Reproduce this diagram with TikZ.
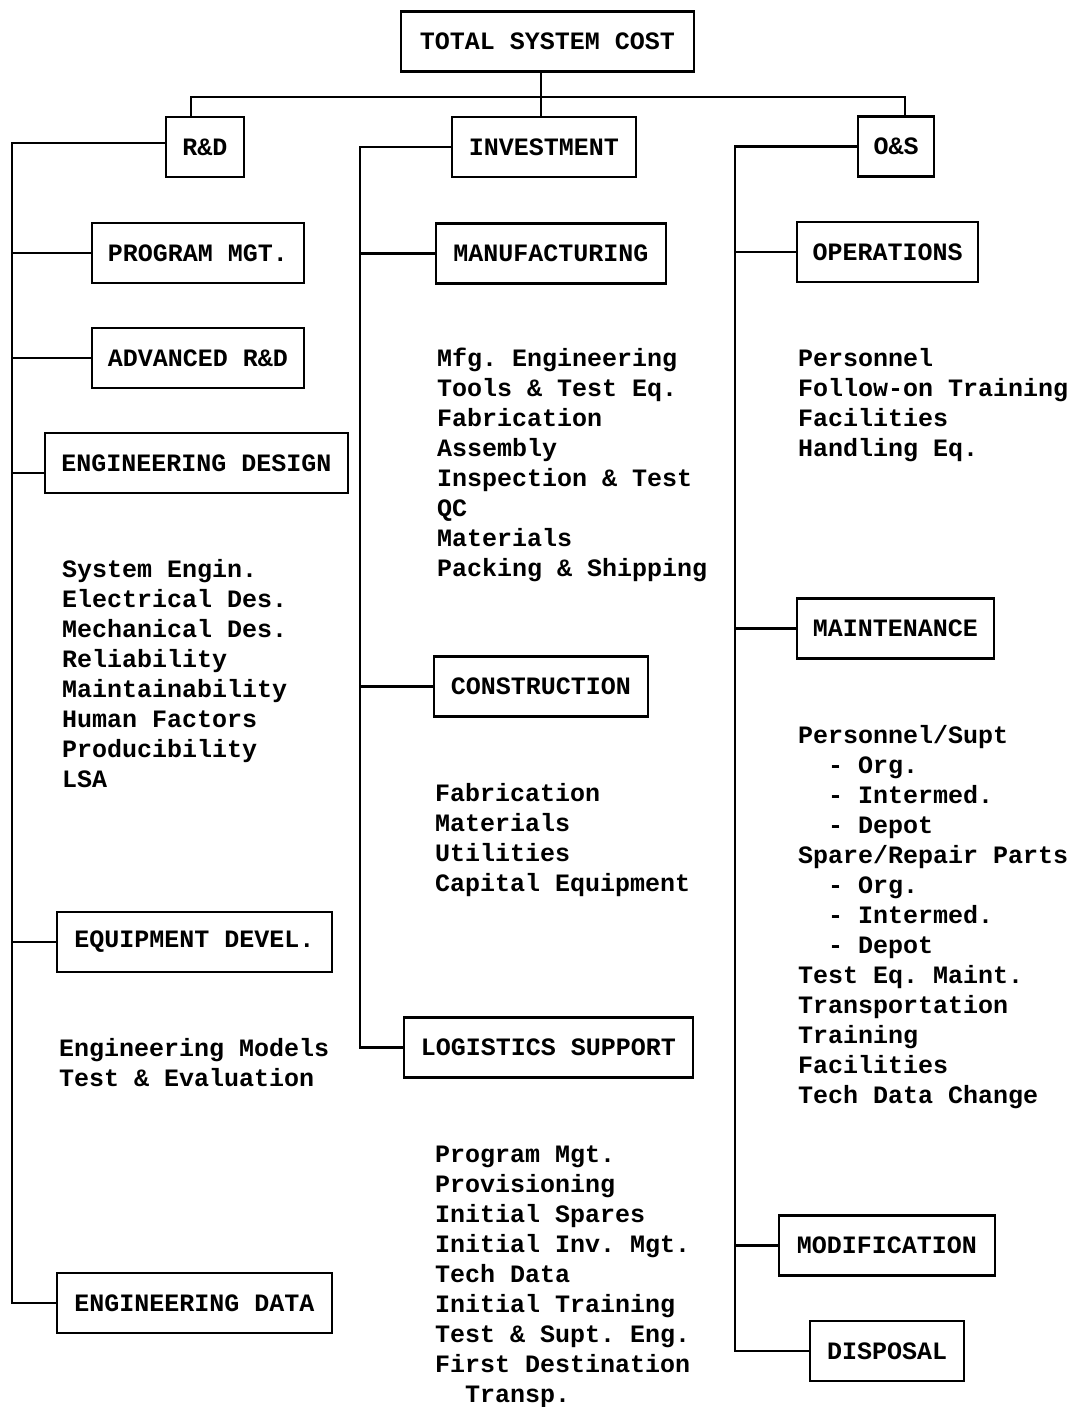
\documentclass[tikz,border=0pt]{standalone}
\usepackage{fontspec}
\setmainfont{Liberation Mono}
\frenchspacing
\begin{document}
\begin{tikzpicture}[x=1pt,y=-1pt,
  every node/.style={font=\fontsize{25}{30}\selectfont\bfseries\frenchspacing},
  box/.style={draw,line width=2.2pt,inner sep=0pt,minimum width=#1,minimum height=60pt},
  list/.style={anchor=base west,align=left,inner sep=0pt},
  conn/.style={line width=2.2pt}]
\useasboundingbox (0,0) rectangle (1072,1407);
% top level
\node[box=293pt] (tsc) at (547.5,41.5) {TOTAL SYSTEM COST};
\node[box=78pt] (rd) at (205,147) {R\&D};
\node[box=184pt] (inv) at (544,147) {INVESTMENT};
\node[box=76pt] (os) at (896,146.5) {O\&S};
\coordinate (busL) at (191,97);
\coordinate (busR) at (905,97);
\coordinate (jx) at (541,97);
\draw[conn] (tsc.south -| jx) -- (inv.north -| jx);
\draw[conn] (rd.north -| busL) -- (busL) -- (busR) -- (os.north -| busR);
% R&D column
\node[box=212pt] (pm) at (198,253) {PROGRAM MGT.};
\node[box=212pt] (adv) at (198,358) {ADVANCED R\&D};
\node[box=303pt] (engd) at (196.5,463) {ENGINEERING DESIGN};
\node[box=275pt] (eqd) at (194.5,942) {EQUIPMENT DEVEL.};
\node[box=275pt] (edata) at (194.5,1303) {ENGINEERING DATA};
\coordinate (sL) at (12,0);
\draw[conn] ([yshift=4pt]rd.west) -| (sL |- edata.west) -- (edata.west);
\draw[conn] (sL |- pm.west) -- (pm.west);
\draw[conn] (sL |- adv.west) -- (adv.west);
\draw[conn] (sL |- 0,473) -- ([yshift=-10pt]engd.west);
\draw[conn] (sL |- eqd.west) -- (eqd.west);
\node[list] (engdl) at (62,787) {System Engin.\\Electrical Des.\\Mechanical Des.\\Reliability\\Maintainability\\Human Factors\\Producibility\\LSA};
\node[list] (eqdl) at (59,1086) {Engineering Models\\Test \& Evaluation};
% Investment column
\node[box=230pt] (mfg) at (551,253.5) {MANUFACTURING};
\node[box=214pt] (con) at (541,686.5) {CONSTRUCTION};
\node[box=289pt] (log) at (548.5,1047.5) {LOGISTICS SUPPORT};
\coordinate (sM) at (360,0);
\draw[conn] (inv.west) -| (sM |- log.west) -- (log.west);
\draw[conn] (sM |- mfg.west) -- (mfg.west);
\draw[conn] (sM |- con.west) -- (con.west);
\node[list] (mfgl) at (437,576) {Mfg. Engineering\\Tools \& Test Eq.\\Fabrication\\Assembly\\Inspection \& Test\\QC\\Materials\\Packing \& Shipping};
\node[list] (conl) at (435,891) {Fabrication\\Materials\\Utilities\\Capital Equipment};
\node[list] (logl) at (435,1402) {Program Mgt.\\Provisioning\\Initial Spares\\Initial Inv. Mgt.\\Tech Data\\Initial Training\\Test \& Supt. Eng.\\First Destination\\\hspace*{30pt}Transp.};
% O&S column
\node[box=181pt] (ops) at (887.5,252) {OPERATIONS};
\node[box=197pt] (mnt) at (895.5,628.5) {MAINTENANCE};
\node[box=216pt] (mod) at (887,1245.5) {MODIFICATION};
\node[box=154pt] (dis) at (887,1351) {DISPOSAL};
\coordinate (sR) at (735,0);
\draw[conn] (os.west) -| (sR |- dis.west) -- (dis.west);
\draw[conn] (sR |- ops.west) -- (ops.west);
\draw[conn] (sR |- mnt.west) -- (mnt.west);
\draw[conn] (sR |- mod.west) -- (mod.west);
\node[list] (opsl) at (798,456) {Personnel\\Follow-on Training\\Facilities\\Handling Eq.};
\node[list] (mntl) at (798,1103) {Personnel/Supt\\\hspace*{30pt}- Org.\\\hspace*{30pt}- Intermed.\\\hspace*{30pt}- Depot\\Spare/Repair Parts\\\hspace*{30pt}- Org.\\\hspace*{30pt}- Intermed.\\\hspace*{30pt}- Depot\\Test Eq. Maint.\\Transportation\\Training\\Facilities\\Tech Data Change};
\end{tikzpicture}
\end{document}
